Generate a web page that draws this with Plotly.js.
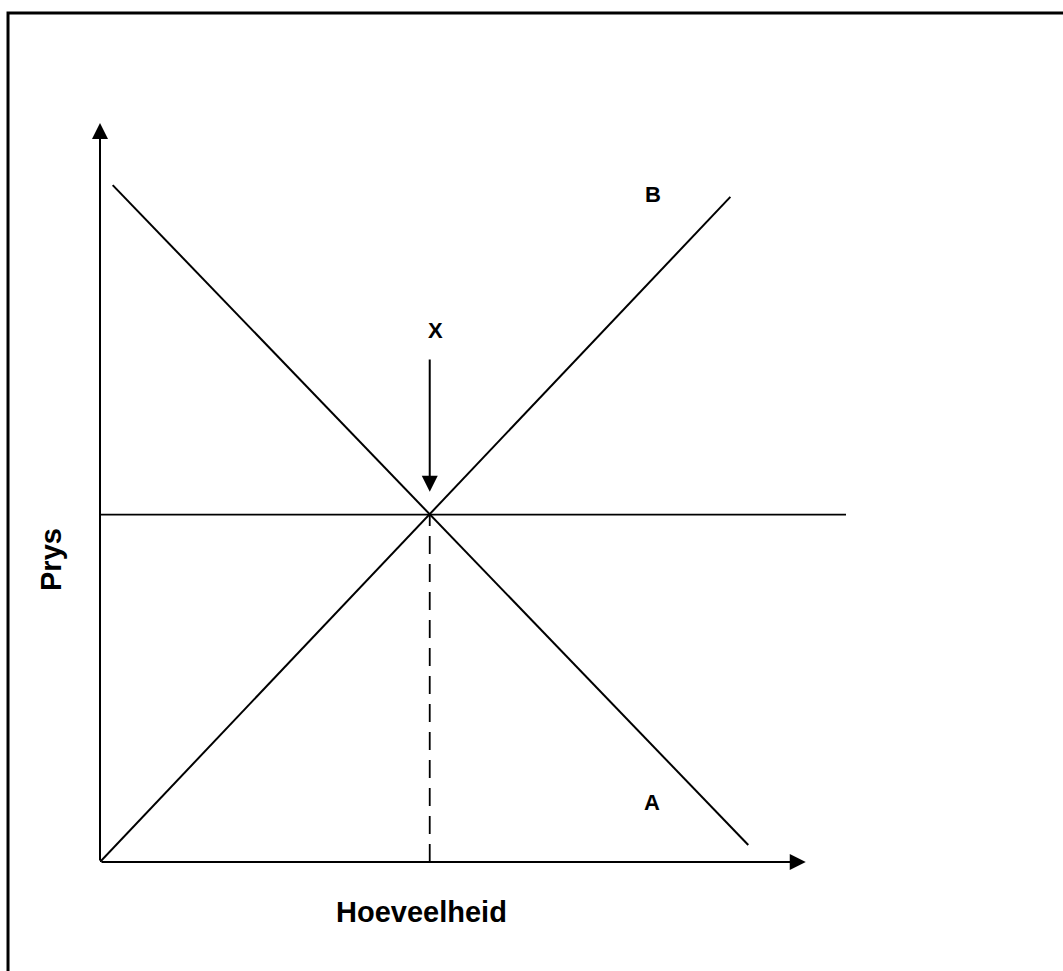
<!DOCTYPE html>
<html>
<head>
<meta charset="utf-8">
<script src="https://cdn.plot.ly/plotly-3.0.1.min.js"></script>
<style>html,body{margin:0;padding:0;background:#fff;}#chart{width:1063px;height:971px;}</style>
</head>
<body>
<div id="chart"></div>
<script>
// Values (arbitrary units, axes 0..100)
var supplyX = [0, 84.5];          // line B
var supplyY = [0, 90.0];
var demandX = [1.7, 86.9];        // line A
var demandY = [91.6, 2.3];
var priceX = [0, 100];            // horizontal price line
var priceY = [47.0, 47.0];
var eqX = [44.2, 44.2];           // dashed quantity line
var eqY = [0, 47.0];
var arrowX = [44.2, 44.2];        // X arrow tail/head
var arrowY = [68.2, 50.1];
var xAxisEnd = 94.6;
var yAxisEnd = 100;
var labels = ["B", "A", "X"];
var labelX = [74.1, 74.0, 45.0];
var labelY = [90.3, 8.0, 71.9];
var xTitle = "Hoeveelheid";
var yTitle = "Prys";

var lineStyle = {color: "#000", width: 2};
var traces = [
  {x: supplyX, y: supplyY, mode: "lines", line: lineStyle, hoverinfo: "skip"},
  {x: demandX, y: demandY, mode: "lines", line: lineStyle, hoverinfo: "skip"},
  {x: priceX, y: priceY, mode: "lines", line: {color: "#000", width: 1.8}, hoverinfo: "skip"},
  {x: eqX, y: eqY, mode: "lines", line: {color: "#000", width: 1.8, dash: "18px,10px"}, hoverinfo: "skip"}
];

var font = {family: "Liberation Sans, Arial, sans-serif", color: "#000"};
var annotations = [];
// axis arrows
annotations.push({x: 0, y: yAxisEnd, ax: 0, ay: 0, xref: "x", yref: "y", axref: "x", ayref: "y",
  text: "", showarrow: true, arrowhead: 2, arrowsize: 1.6, arrowwidth: 2, arrowcolor: "#000"});
annotations.push({x: xAxisEnd, y: 0, ax: 0, ay: 0, xref: "x", yref: "y", axref: "x", ayref: "y",
  text: "", showarrow: true, arrowhead: 2, arrowsize: 1.6, arrowwidth: 2, arrowcolor: "#000"});
// X arrow
annotations.push({x: arrowX[1], y: arrowY[1], ax: arrowX[0], ay: arrowY[0], xref: "x", yref: "y", axref: "x", ayref: "y",
  text: "", showarrow: true, arrowhead: 2, arrowsize: 1.6, arrowwidth: 2, arrowcolor: "#000"});
for (var i = 0; i < labels.length; i++) {
  annotations.push({x: labelX[i], y: labelY[i], xref: "x", yref: "y", text: "<b>" + labels[i] + "</b>",
    xanchor: "center", yanchor: "middle", showarrow: false, font: Object.assign({size: 22}, font)});
}
annotations.push({x: 0.431, y: -0.0677, xref: "paper", yref: "paper", text: "<b>" + xTitle + "</b>",
  xanchor: "center", yanchor: "middle", showarrow: false, font: Object.assign({size: 29}, font)});
annotations.push({x: -0.0657, y: 0.410, xref: "paper", yref: "paper", text: "<b>" + yTitle + "</b>", textangle: -90,
  xanchor: "center", yanchor: "middle", showarrow: false, font: Object.assign({size: 29}, font)});

var layout = {
  width: 1063, height: 971,
  margin: {l: 100, r: 217, t: 123, b: 109},
  paper_bgcolor: "#fff", plot_bgcolor: "#fff",
  showlegend: false,
  xaxis: {range: [0, 100], showgrid: false, zeroline: false, showline: false, showticklabels: false, ticks: "", fixedrange: true},
  yaxis: {range: [0, 100], showgrid: false, zeroline: false, showline: false, showticklabels: false, ticks: "", fixedrange: true},
  annotations: annotations,
  shapes: [{type: "rect", xref: "paper", yref: "paper", x0: -0.1233, x1: 1.5, y0: -0.3, y1: 1.1488,
    line: {color: "#000", width: 3}, fillcolor: "rgba(0,0,0,0)"}]
};
Plotly.newPlot("chart", traces, layout, {displayModeBar: false, staticPlot: true});
</script>
</body>
</html>
